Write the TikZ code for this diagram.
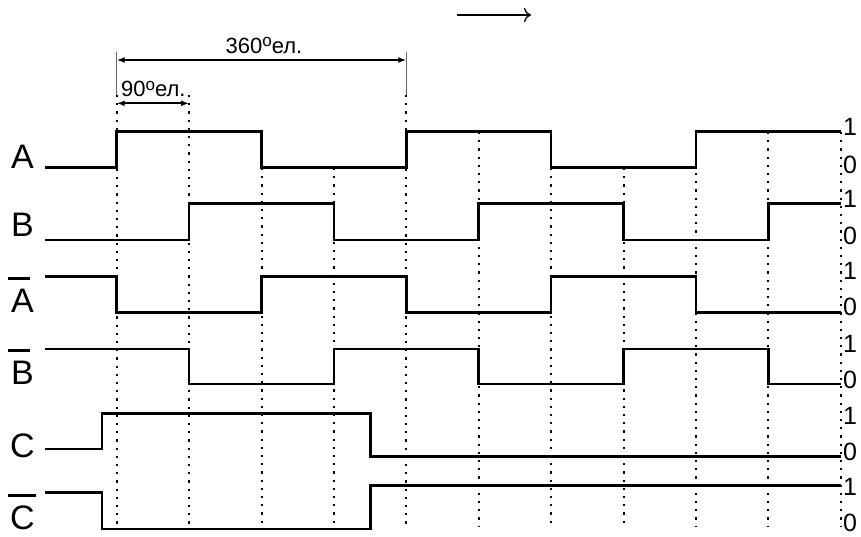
\documentclass[tikz,border=0pt]{standalone}
\usepackage{fontspec}
\setmainfont{Liberation Sans}
\usetikzlibrary{arrows.meta}
\begin{document}
\begin{tikzpicture}[x=1pt,y=-1pt,
  sig/.style={line width=2.5pt, line join=miter},
  gridline/.style={line width=2pt, dash pattern=on 2.2pt off 6pt},
  ext/.style={line width=0.9pt, black!60},
  dimline/.style={line width=2pt, {Latex[length=8pt,width=6pt]}-{Latex[length=8pt,width=6pt]}},
  lbl/.style={font=\fontsize{34}{34}\selectfont, inner sep=0pt, anchor=base west},
  lvl/.style={font=\fontsize{25}{25}\selectfont, inner sep=0pt, anchor=west},
  dimtxt/.style={font=\fontsize{22}{22}\selectfont, inner sep=0pt, anchor=base},
  supo/.style={},
  bar/.style={line width=3pt}]
\useasboundingbox (0,0) rectangle (861,536);

% time grid (dotted)
\foreach \k/\top in {0/95,1/95,2/168,3/168,4/95,5/132,6/168,7/168,8/132,9/132,10/132}
  \draw[gridline] ({116.7+72.4*\k},\top) -- ({116.7+72.4*\k},527);

% extension lines of the dimensions
\coordinate (e0t) at (116.7,52);  \coordinate (e0b) at (116.7,95);
\coordinate (e4t) at (406.3,52);  \coordinate (e4b) at (406.3,95);
\draw[ext] (e0t) -- (e0b);
\draw[ext] (e4t) -- (e4b);

% dimensions
\coordinate (d360a) at (116.7,60);  \coordinate (d360b) at (406.3,60);
\coordinate (d90a) at (116.7,103.3); \coordinate (d90b) at (189.1,103.3);
\draw[dimline] (d360a) -- (d360b);
\draw[dimline] (d90a) -- (d90b);
\node[dimtxt] (t360) at (264,53) {360\raisebox{6.5pt}{\fontsize{17}{17}\selectfont o}ел.};
\node[dimtxt, anchor=base west] (t90) at (121,96.5) {90\raisebox{6.5pt}{\fontsize{17}{17}\selectfont o}ел.};

% direction arrow
\coordinate (arA) at (457,15); \coordinate (arB) at (531,15);
\draw[line width=1.3pt, -{To[length=7pt,width=14pt]}] (arA) -- (arB);

% signals
\draw[sig] (45,167.7) -| (116.7,131.7) -| (261.5,167.7) -| (406.3,131.7) -| (551.1,167.7) -| (695.9,131.7) -- (840.7,131.7);
\draw[sig] (45,240) -| (189.1,203.3) -| (333.9,240) -| (478.7,203.3) -| (623.5,240) -| (768.3,203.3) -- (840.7,203.3);
\draw[sig] (45,276.7) -| (116.7,312.3) -| (261.5,276.7) -| (406.3,312.3) -| (551.1,276.7) -| (695.9,312.3) -- (840.7,312.3);
\draw[sig] (45,349) -| (189.1,384) -| (333.9,349) -| (478.7,384) -| (623.5,349) -| (768.3,384) -- (840.7,384);
\draw[sig] (45,449) -| (102.2,413.3) -| (370.7,456.7) -- (840.7,456.7);
\draw[sig] (45,492.7) -| (102.2,529) -| (370.7,485.3) -- (840.7,485.3);

% left labels
\node[lbl] (nA) at (11,168) {A};
\node[lbl] (nB) at (11,236) {B};
\node[lbl] (nAn) at (11,312.5) {A};
\node[lbl] (nBn) at (11,384) {B};
\node[lbl] (nC) at (10,457) {C};
\node[lbl] (nCn) at (10,529) {C};
\draw[bar] (8,278) -- (30,278);
\draw[bar] (8,350.5) -- (30,350.5);
\draw[bar] (8,495) -- (36,495);

% level labels
\foreach \i/\y/\t in {1/127/1,2/165/0,3/199/1,4/236/0,5/271/1,6/307/0,7/344/1,8/380/0,9/416/1,10/452/0,11/487/1,12/523/0}
  \node[lvl] (lv\i) at (843,\y) {\t};
\end{tikzpicture}
\end{document}
